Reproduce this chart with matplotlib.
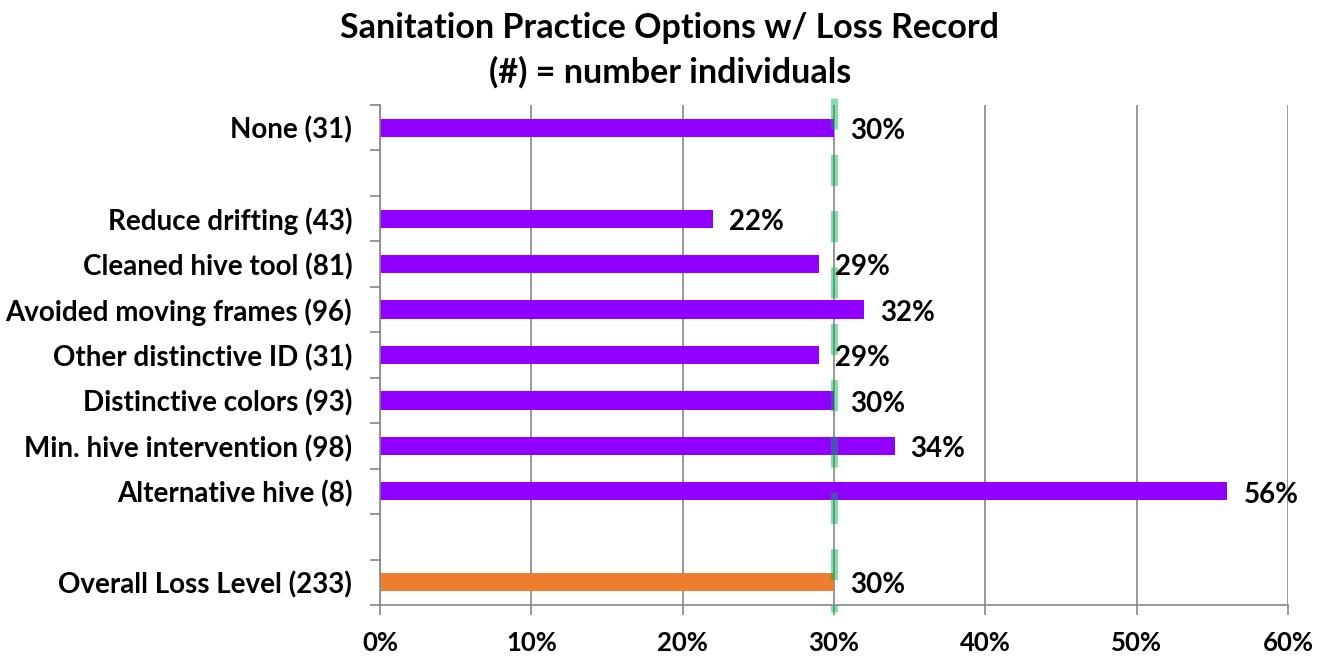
import numpy as np
import matplotlib
matplotlib.use("Agg")
import matplotlib.pyplot as plt

plt.rcParams['font.family'] = ['Lato', 'DejaVu Sans']
plt.rcParams['font.weight'] = 'bold'

# categories, top to bottom ("" = empty slot)
categories = ["None (31)", "", "Reduce drifting (43)", "Cleaned hive tool (81)",
              "Avoided moving frames (96)", "Other distinctive ID (31)",
              "Distinctive colors (93)", "Min. hive intervention (98)",
              "Alternative hive (8)", "", "Overall Loss Level (233)"]
loss_pct = [30, None, 22, 29, 32, 29, 30, 34, 56, None, 30]
overall_level = 30
xticks_pct = [0, 10, 20, 30, 40, 50, 60]

purple = '#9100ff'
orange = '#ed7d31'

fig = plt.figure(figsize=(13.26, 6.56), dpi=100)
ax = fig.add_axes([380/1326, 1-605/656, (1288-380)/1326, (605-105)/656])

ypos = np.arange(len(categories))
for y, v, c in zip(ypos, loss_pct, categories):
    if v is None:
        continue
    col = orange if c.startswith("Overall") else purple
    ax.barh(y, v, height=0.4, color=col, zorder=2)
    ax.text(v + 1.05, y + 0.07, f"{v}%", va='center', ha='left',
            fontsize=20, fontweight='bold', zorder=4)

# dashed reference line at overall loss level, drawn top -> bottom
n = len(categories)
ax.plot([overall_level, overall_level], [-0.65, n - 0.35], color='#00b050',
        alpha=0.45, lw=5.2, dashes=(4.3, 3.5), zorder=3, clip_on=False,
        solid_capstyle='butt', dash_capstyle='butt')

ax.set_xlim(0, 60)
ax.set_ylim(n - 0.5, -0.5)
ax.set_xticks(xticks_pct)
ax.set_xticklabels([f"{t}%" for t in xticks_pct], fontsize=18.5, fontweight='bold')
ax.set_yticks(ypos)
ax.set_yticklabels(categories, fontsize=20, fontweight='bold')
ax.set_yticks(np.arange(n + 1) - 0.5, minor=True)
ax.tick_params(axis='y', which='major', length=0, pad=20)
ax.tick_params(axis='y', which='minor', length=7, color='#868686', width=1.2)
ax.tick_params(axis='x', length=7, color='#868686', width=1.2, pad=12)

ax.grid(axis='x', color='#868686', lw=1.2, zorder=0)
for s in ['top', 'right']:
    ax.spines[s].set_visible(False)
for s in ['left', 'bottom']:
    ax.spines[s].set_color('#868686')
    ax.spines[s].set_linewidth(1.2)

fig.text(670/1326, 1-28/656, "Sanitation Practice Options w/ Loss Record",
         ha='center', va='center', fontsize=24.5, fontweight='bold')
fig.text(670/1326, 1-72/656, "(#) = number individuals",
         ha='center', va='center', fontsize=24.5, fontweight='bold')

fig.savefig("out.png", dpi=100)
